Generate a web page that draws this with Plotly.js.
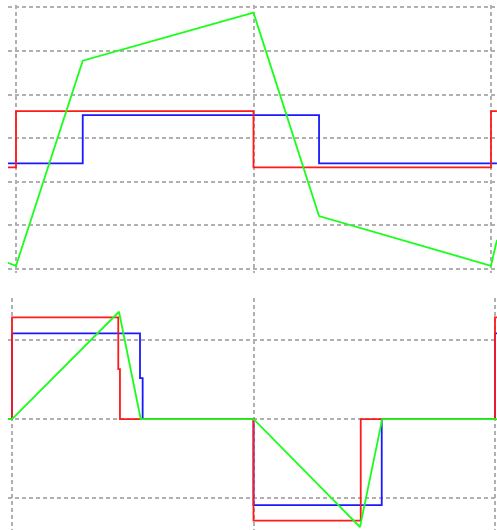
<!DOCTYPE html>
<html>
<head>
<meta charset="utf-8">
<script src="https://cdn.plot.ly/plotly-3.0.1.min.js"></script>
<style>
  html, body { margin: 0; padding: 0; background: #ffffff; }
  #chart { width: 497px; height: 530px; }
</style>
</head>
<body>
<div id="chart"></div>
<script>
// Upper panel: bridge voltages (step waveforms) and the resulting current (piecewise linear)
const topTimeRed   = [-0.034, 0, 1, 2, 2.025];
const topRed       = [-0.67, 0.62, -0.67, 0.62, 0.62];
const topTimeBlue  = [-0.034, 0.281, 1.276, 2.025];
const topBlue      = [-0.575, 0.53, -0.575, -0.575];
const topTimeGreen = [-0.034, 0, 0.281, 1, 1.276, 2, 2.025];
const topGreen     = [-2.855, -2.924, 1.778, 2.878, -1.785, -2.924, -2.335];

// Lower panel: three-level waveforms and the triangular current pulses
const botTimeRed   = [-0.0166, 0, 0.440, 0.447, 1, 1.444, 2, 2.0083];
const botRed       = [0, 1.287, 0.633, 0, -1.287, 0, 1.287, 1.287];
const botTimeBlue  = [-0.0166, 0, 0.530, 0.541, 1, 1.531, 2, 2.0083];
const botBlue      = [0, 1.085, 0.519, 0, -1.089, 0, 1.085, 1.085];
const botTimeGreen = [-0.0166, 0, 0.443, 0.533, 1, 1.441, 1.533, 2, 2.0083];
const botGreen     = [0, 0, 1.358, 0, 0, -1.367, 0, 0, 0];

const RED = '#ff1a1a', BLUE = '#1a1aff', GREEN = '#1aff1a';
const LW = 1.8;

const traces = [
  { x: topTimeBlue,  y: topBlue,  xaxis: 'x',  yaxis: 'y',  mode: 'lines', line: { color: BLUE,  width: LW, shape: 'hv' } },
  { x: topTimeRed,   y: topRed,   xaxis: 'x',  yaxis: 'y',  mode: 'lines', line: { color: RED,   width: LW, shape: 'hv' } },
  { x: topTimeGreen, y: topGreen, xaxis: 'x',  yaxis: 'y',  mode: 'lines', line: { color: GREEN, width: LW } },
  { x: botTimeBlue,  y: botBlue,  xaxis: 'x2', yaxis: 'y2', mode: 'lines', line: { color: BLUE,  width: LW, shape: 'hv' } },
  { x: botTimeRed,   y: botRed,   xaxis: 'x2', yaxis: 'y2', mode: 'lines', line: { color: RED,   width: LW, shape: 'hv' } },
  { x: botTimeGreen, y: botGreen, xaxis: 'x2', yaxis: 'y2', mode: 'lines', line: { color: GREEN, width: LW } }
];

const grid = {
  showgrid: true, gridcolor: '#b0b0b0', gridwidth: 2, griddash: '4px,3px',
  zeroline: false, showline: false, showticklabels: false, ticks: '',
  tick0: 0, dtick: 1, fixedrange: true
};

const layout = {
  width: 497, height: 530,
  margin: { l: 0, r: 0, t: 0, b: 0 },
  paper_bgcolor: '#ffffff', plot_bgcolor: '#ffffff',
  showlegend: false,
  xaxis:  Object.assign({}, grid, { domain: [8 / 497, 1], range: [-0.0337, 2.0253], anchor: 'y' }),
  yaxis:  Object.assign({}, grid, { domain: [0.4849, 0.9906], range: [-3.090, 3.054], anchor: 'x' }),
  xaxis2: Object.assign({}, grid, { domain: [8 / 497, 1], range: [-0.0166, 2.0083], anchor: 'y2' }),
  yaxis2: Object.assign({}, grid, { domain: [0, 0.4377], range: [-1.405, 1.532], anchor: 'x2' })
};

Plotly.newPlot('chart', traces, layout, { displayModeBar: false, staticPlot: true });
</script>
</body>
</html>
